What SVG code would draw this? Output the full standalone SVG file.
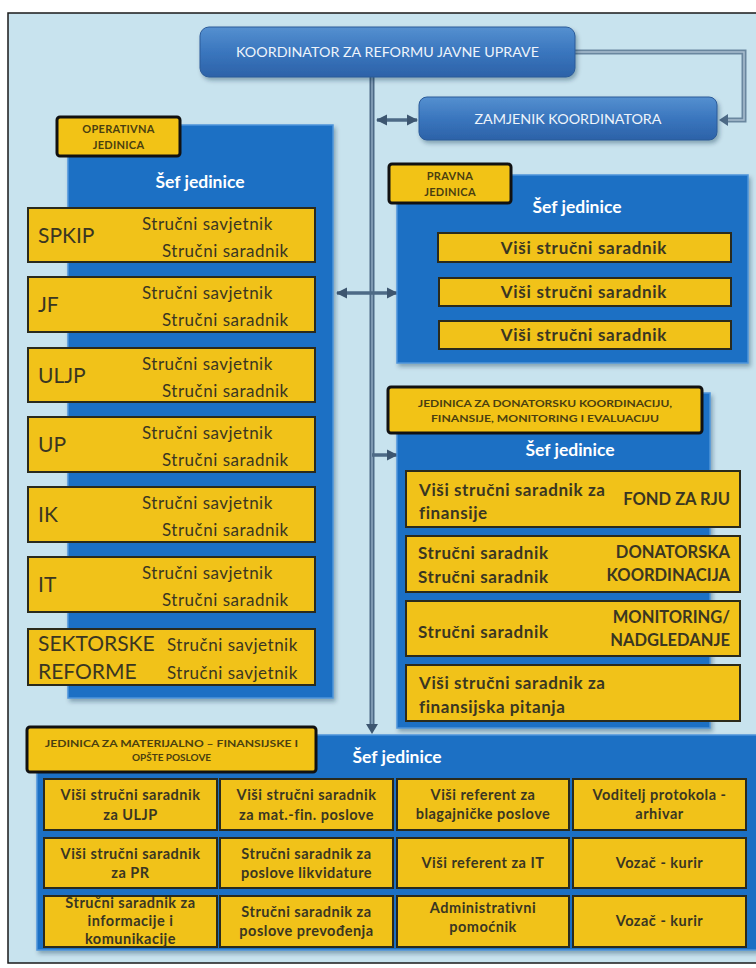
<svg xmlns="http://www.w3.org/2000/svg" width="756" height="968" viewBox="0 0 756 968">
<defs>
<linearGradient id="gBlue" x1="0" y1="0" x2="0" y2="1">
<stop offset="0" stop-color="#5590d0"/>
<stop offset="0.5" stop-color="#3a76be"/>
<stop offset="1" stop-color="#2c62a8"/>
</linearGradient>
<filter id="sh" x="-10%" y="-10%" width="120%" height="130%">
<feDropShadow dx="2" dy="3" stdDeviation="2" flood-color="#0a2540" flood-opacity="0.35"/>
</filter>
<marker id="ah" viewBox="0 0 10 10" refX="9" refY="5" markerWidth="3.2" markerHeight="3.2" orient="auto-start-reverse">
<path d="M0,0 L10,5 L0,10 z" fill="#3d5670"/>
</marker>
<style>
.frame{fill:#c8e3ee;stroke:#1a1a1a;stroke-width:1.5}
.top{fill:url(#gBlue);stroke:#2a5a98;stroke-width:1}
.toptxt{font-family:Lato,"Open Sans",sans-serif;font-size:13.5px;fill:#eef4fb;text-anchor:middle}
.panel{fill:#1b6fc4;stroke:#4d94da;stroke-width:1.5}
.lbl{fill:#f2c316;stroke:#111;stroke-width:3}
.lbltxt{font-family:Lato,"Open Sans",sans-serif;font-size:11px;font-weight:bold;letter-spacing:0.3px;fill:#4a3f10;text-anchor:middle}
.lbltxt2{font-family:Lato,"Open Sans",sans-serif;font-size:10px;font-weight:bold;fill:#4a3f10;text-anchor:middle}
.row{fill:#f1c219;stroke:#2a2a1c;stroke-width:2}
.sef{font-family:Lato,"Open Sans",sans-serif;font-size:17.5px;font-weight:bold;fill:#ffffff;text-anchor:middle}
.big{font-family:Lato,"Open Sans",sans-serif;font-size:21px;fill:#3a3622}
.reg{font-family:Lato,"Open Sans",sans-serif;font-size:17px;letter-spacing:0.5px;fill:#3a3622}
.bd{font-family:Lato,"Open Sans",sans-serif;font-size:17px;font-weight:bold;letter-spacing:0.6px;fill:#3a3622}
.bdc{font-family:Lato,"Open Sans",sans-serif;font-size:17px;font-weight:bold;letter-spacing:0.7px;fill:#3a3622;text-anchor:middle}
.bdr{font-family:Lato,"Open Sans",sans-serif;font-size:16.5px;font-weight:bold;fill:#3a3622;text-anchor:end}
.cell{font-family:Lato,"Open Sans",sans-serif;font-size:14.5px;font-weight:bold;letter-spacing:0.5px;fill:#3a3622;text-anchor:middle}
.pipe{fill:none;stroke:#4d6a86;stroke-width:5}
.pipein{fill:none;stroke:#8ea8bf;stroke-width:1.5}
.pipe2{fill:none;stroke:#6a879f;stroke-width:5}
.pipe2in{fill:none;stroke:#a9bfd0;stroke-width:1.5}
.arr{fill:none;stroke:#4d6a86;stroke-width:3.5}
</style>
</defs>

<rect class="frame" x="8" y="13" width="770" height="950"/>

<g id="connectors">
<path class="pipe2" d="M575,52 H744 V120 H726"/>
<path class="pipe2in" d="M575,52 H744 V120 H726"/>
<line class="pipe" x1="372" y1="77" x2="372" y2="726"/>
<line class="pipein" x1="372" y1="77" x2="372" y2="726"/>
<path d="M366,724 L378,724 L372,734 z" fill="#3d5670"/>
<path d="M728,114 L719,120 L728,126 z" fill="#4d6a86"/>
<line class="arr" x1="377" y1="120" x2="417" y2="120" marker-start="url(#ah)" marker-end="url(#ah)"/>
<line class="arr" x1="337" y1="293" x2="397" y2="293" marker-start="url(#ah)" marker-end="url(#ah)"/>
<line class="arr" x1="372" y1="455" x2="397" y2="455" marker-end="url(#ah)"/>
</g>

<g id="koordinator">
<rect class="top" x="200" y="27" width="375" height="50" rx="9" filter="url(#sh)"/>
<text class="toptxt" x="387.5" y="57" textLength="303" lengthAdjust="spacingAndGlyphs">KOORDINATOR ZA REFORMU JAVNE UPRAVE</text>
</g>

<g id="zamjenik">
<rect class="top" x="419" y="97" width="298" height="43" rx="8" filter="url(#sh)"/>
<text class="toptxt" x="568" y="124" textLength="187" lengthAdjust="spacingAndGlyphs">ZAMJENIK KOORDINATORA</text>
</g>

<g id="operativna">
<rect class="panel" x="68" y="125" width="265" height="573" filter="url(#sh)"/>
<rect class="lbl" x="57" y="117" width="123" height="39" rx="3"/>
<text class="lbltxt" x="118.5" y="133">OPERATIVNA</text>
<text class="lbltxt" x="118.5" y="149">JEDINICA</text>
<text class="sef" x="200" y="188">Šef jedinice</text>

<rect class="row" x="28" y="208" width="287" height="54"/>
<text class="big" x="38" y="243">SPKIP</text>
<text class="reg" x="142" y="230">Stručni savjetnik</text>
<text class="reg" x="162" y="257">Stručni saradnik</text>

<rect class="row" x="28" y="277" width="287" height="55"/>
<text class="big" x="38" y="312">JF</text>
<text class="reg" x="142" y="299">Stručni savjetnik</text>
<text class="reg" x="162" y="326">Stručni saradnik</text>

<rect class="row" x="28" y="348" width="287" height="54"/>
<text class="big" x="38" y="383">ULJP</text>
<text class="reg" x="142" y="370">Stručni savjetnik</text>
<text class="reg" x="162" y="397">Stručni saradnik</text>

<rect class="row" x="28" y="417" width="287" height="55"/>
<text class="big" x="38" y="452">UP</text>
<text class="reg" x="142" y="439">Stručni savjetnik</text>
<text class="reg" x="162" y="466">Stručni saradnik</text>

<rect class="row" x="28" y="487" width="287" height="55"/>
<text class="big" x="38" y="522">IK</text>
<text class="reg" x="142" y="509">Stručni savjetnik</text>
<text class="reg" x="162" y="536">Stručni saradnik</text>

<rect class="row" x="28" y="557" width="287" height="55"/>
<text class="big" x="38" y="592">IT</text>
<text class="reg" x="142" y="579">Stručni savjetnik</text>
<text class="reg" x="162" y="606">Stručni saradnik</text>

<rect class="row" x="28" y="629" width="287" height="56"/>
<text class="big" x="38" y="651">SEKTORSKE</text>
<text class="big" x="38" y="679">REFORME</text>
<text class="reg" x="167" y="651">Stručni savjetnik</text>
<text class="reg" x="167" y="679">Stručni savjetnik</text>
</g>

<g id="pravna">
<rect class="panel" x="397" y="175" width="351" height="188" filter="url(#sh)"/>
<rect class="lbl" x="389" y="164" width="122" height="39" rx="3"/>
<text class="lbltxt" x="450" y="180">PRAVNA</text>
<text class="lbltxt" x="450" y="196">JEDINICA</text>
<text class="sef" x="577" y="213">Šef jedinice</text>
<rect class="row" x="438" y="233" width="293" height="29"/>
<text class="bdc" x="584" y="254">Viši stručni saradnik</text>
<rect class="row" x="439" y="278" width="292" height="28"/>
<text class="bdc" x="584" y="298">Viši stručni saradnik</text>
<rect class="row" x="439" y="321" width="292" height="28"/>
<text class="bdc" x="584" y="341">Viši stručni saradnik</text>
</g>

<g id="donatorska">
<rect class="panel" x="397" y="393" width="313" height="335" filter="url(#sh)"/>
<rect class="lbl" x="388" y="387" width="314" height="46" rx="3"/>
<text class="lbltxt2" x="545" y="407" textLength="254" lengthAdjust="spacingAndGlyphs">JEDINICA ZA DONATORSKU KOORDINACIJU,</text>
<text class="lbltxt2" x="545" y="422" textLength="228" lengthAdjust="spacingAndGlyphs">FINANSIJE, MONITORING I EVALUACIJU</text>
<text class="sef" x="570" y="456">Šef jedinice</text>

<rect class="row" x="406" y="471" width="334" height="56"/>
<text class="bd" x="419" y="496">Viši stručni saradnik za</text>
<text class="bd" x="419" y="519">finansije</text>
<text class="bdr" x="730" y="505">FOND ZA RJU</text>

<rect class="row" x="406" y="536" width="334" height="56"/>
<text class="bd" x="418" y="559">Stručni saradnik</text>
<text class="bd" x="418" y="583">Stručni saradnik</text>
<text class="bdr" x="730" y="558">DONATORSKA</text>
<text class="bdr" x="730" y="581">KOORDINACIJA</text>

<rect class="row" x="406" y="601" width="334" height="55"/>
<text class="bd" x="418" y="638">Stručni saradnik</text>
<text class="bdr" x="730" y="623">MONITORING/</text>
<text class="bdr" x="730" y="646">NADGLEDANJE</text>

<rect class="row" x="406" y="665" width="334" height="56"/>
<text class="bd" x="419" y="689">Viši stručni saradnik za</text>
<text class="bd" x="419" y="713">finansijska pitanja</text>
</g>

<g id="materijalno">
<rect class="panel" x="37" y="735" width="720" height="215" filter="url(#sh)"/>
<rect class="lbl" x="27" y="727" width="289" height="45" rx="3"/>
<text class="lbltxt2" x="171.5" y="747" textLength="253" lengthAdjust="spacingAndGlyphs">JEDINICA ZA MATERIJALNO – FINANSIJSKE I</text>
<text class="lbltxt2" x="171.5" y="761">OPŠTE POSLOVE</text>
<text class="sef" x="397" y="763">Šef jedinice</text>

<rect class="row" x="44" y="779" width="173" height="51"/>
<text class="cell" x="130.5" y="800">Viši stručni saradnik</text>
<text class="cell" x="130.5" y="820">za ULJP</text>
<rect class="row" x="220" y="779" width="173" height="51"/>
<text class="cell" x="306.5" y="800">Viši stručni saradnik</text>
<text class="cell" x="306.5" y="820">za mat.-fin. poslove</text>
<rect class="row" x="397" y="779" width="172" height="51"/>
<text class="cell" x="483" y="800">Viši referent za</text>
<text class="cell" x="483" y="819">blagajničke poslove</text>
<rect class="row" x="573" y="779" width="173" height="51"/>
<text class="cell" x="659.5" y="800">Voditelj protokola -</text>
<text class="cell" x="659.5" y="819">arhivar</text>

<rect class="row" x="44" y="838" width="173" height="50"/>
<text class="cell" x="130.5" y="859">Viši stručni saradnik</text>
<text class="cell" x="130.5" y="878">za PR</text>
<rect class="row" x="220" y="838" width="173" height="50"/>
<text class="cell" x="306.5" y="859">Stručni saradnik za</text>
<text class="cell" x="306.5" y="878">poslove likvidature</text>
<rect class="row" x="397" y="838" width="172" height="50"/>
<text class="cell" x="483" y="868">Viši referent za IT</text>
<rect class="row" x="573" y="838" width="173" height="50"/>
<text class="cell" x="659.5" y="868">Vozač - kurir</text>

<rect class="row" x="44" y="896" width="173" height="51"/>
<text class="cell" x="130.5" y="908">Stručni saradnik za</text>
<text class="cell" x="130.5" y="926">informacije i</text>
<text class="cell" x="130.5" y="944">komunikacije</text>
<rect class="row" x="220" y="896" width="173" height="51"/>
<text class="cell" x="306.5" y="917">Stručni saradnik za</text>
<text class="cell" x="306.5" y="936">poslove prevođenja</text>
<rect class="row" x="397" y="896" width="172" height="51"/>
<text class="cell" x="483" y="913">Administrativni</text>
<text class="cell" x="483" y="932">pomoćnik</text>
<rect class="row" x="573" y="896" width="173" height="51"/>
<text class="cell" x="659.5" y="926">Vozač - kurir</text>
</g>
</svg>
